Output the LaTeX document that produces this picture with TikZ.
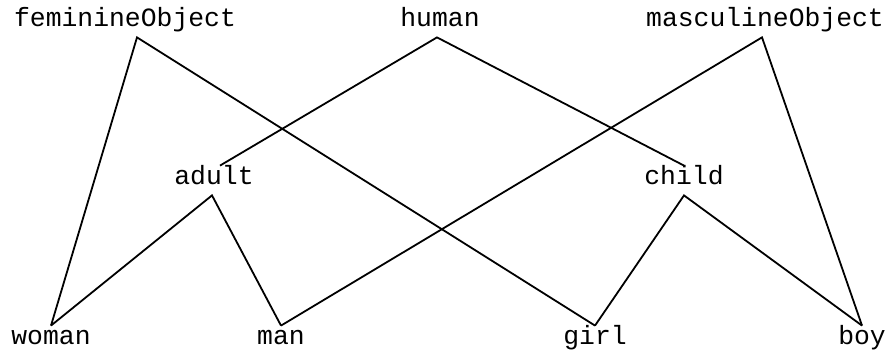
\documentclass[tikz,border=0pt]{standalone}
\usepackage{fontspec}
\setmonofont{Liberation Mono}
\usetikzlibrary{positioning}

\begin{document}
\begin{tikzpicture}[
    x=0.5pt, y=-0.5pt,
    word/.style={anchor=base, font=\ttfamily\fontsize{13.2}{15}\selectfont, text height=7pt, text depth=2.5pt, inner xsep=0pt, inner ysep=2.5pt},
    link/.style={line width=0.9pt, line join=miter},
]
\useasboundingbox (0,0) rectangle (893,356);

% ===== Top row =====
\node[word] (fem)   at (125,27) {feminineObject};
\node[word] (human) at (440,27) {human};
\node[word] (masc)  at (765,27) {masculineObject};

% ===== Middle row =====
\node[word] (adult) at (214,185) {adult};
\node[word] (child) at (684,185) {child};

% ===== Bottom row =====
\node[word] (woman) at (51,345)  {woman};
\node[word] (man)   at (281,345) {man};
\node[word] (girl)  at (595,345) {girl};
\node[word] (boy)   at (862,345) {boy};

% ===== Links =====
\draw[link] (woman.north) -- ([xshift=6pt]fem.south) -- (girl.north);
\draw[link] ([xshift=3pt]adult.north) -- ([xshift=-1.5pt]human.south) -- (child.north);
\draw[link] (man.north) -- ([xshift=-1.5pt]masc.south) -- (boy.north);
\draw[link] (woman.north) -- ([xshift=-1pt]adult.south) -- (man.north);
\draw[link] (girl.north) -- (child.south) -- (boy.north);

\end{tikzpicture}
\end{document}
